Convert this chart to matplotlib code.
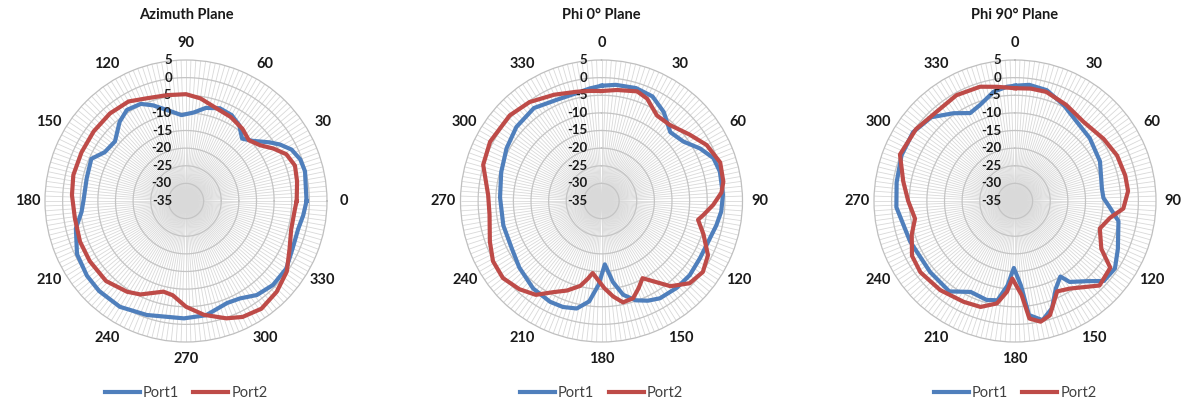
import numpy as np
import matplotlib
matplotlib.use("Agg")
import matplotlib.pyplot as plt

plt.rcParams['font.family'] = ['Lato', 'DejaVu Sans']

# Datos (angulo en grados, ganancia en dB)
azi_ang1 = [0, 10, 14, 20, 26, 31, 35, 42, 48, 55, 62, 70, 78, 85, 93, 100, 109, 115, 123, 130,
            140, 149, 156, 167, 180, 186, 194, 206, 217, 226, 238, 251, 269, 280, 292, 299, 307,
            316, 326, 336, 346, 353]
azi_p1 = [-0.8, -0.6, -0.2, -0.5, -1.7, -3.9, -6.0, -9.5, -11.2, -8.7, -7.4, -7.0, -8.0, -9.8,
          -10.6, -9.1, -6.3, -4.6, -4.2, -5.7, -8.7, -8.1, -5.6, -6.1, -5.9, -5.2, -2.8, -0.6,
          0.2, 0.5, 0.4, -0.8, -1.7, -2.1, -3.8, -3.4, -1.6, -0.7, -0.7, -1.9, -2.2, -1.5]

azi_ang2 = [0, 10, 18, 25, 31, 37, 44, 52, 62, 72, 82, 90, 100, 111, 120, 131, 143, 155, 167, 177,
            189, 201, 212, 225, 237, 244, 256, 262, 270, 279, 289, 296, 305, 315, 325, 335, 345, 356]
azi_p2 = [-3.6, -3.0, -2.5, -3.6, -6.1, -8.7, -10.2, -9.0, -8.0, -7.3, -5.6, -4.7, -4.5, -3.8,
          -2.4, -2.1, -2.2, -2.3, -2.2, -2.6, -3.1, -2.8, -2.8, -2.9, -4.3, -5.5, -8.5, -8.0,
          -5.0, -2.3, 0.2, 1.6, 2.3, 1.4, -0.1, -2.6, -4.1, -4.0]

phi0_ang1 = [0, 7, 17, 26, 35, 45, 54, 62, 69, 76, 87, 95, 102, 111, 120, 130, 139, 149, 155, 161,
             167, 172, 177, 182, 187, 193, 200, 207, 218, 231, 242, 256, 272, 286, 299, 311, 324,
             336, 347, 354]
phi0_p1 = [-2.3, -1.8, -1.5, -2.0, -4.2, -7.4, -6.3, -3.3, -1.0, -0.4, -0.5, -0.9, -1.7, -2.6,
           -2.7, -2.3, -2.4, -2.8, -3.8, -5.2, -7.7, -11.8, -17.0, -11.2, -6.3, -3.7, -3.0, -2.9,
           -3.5, -5.0, -6.2, -6.3, -6.2, -5.4, -4.2, -3.0, -2.4, -3.6, -3.6, -2.9]

phi0_ang2 = [0, 8, 18, 24, 33, 42, 53, 62, 72, 81, 86, 92, 98, 101, 108, 117, 125, 133, 141, 147,
             152, 157, 162, 168, 173, 178, 187, 190, 194, 201, 208, 215, 223, 232, 241, 250, 263,
             273, 287, 298, 313, 324, 336, 347, 354]
phi0_p2 = [-3.8, -3.2, -2.3, -3.2, -6.1, -6.0, -3.7, -1.2, 0.4, 0.0, -0.9, -3.3, -5.9, -7.1,
           -4.6, -1.1, 0.1, -0.8, -3.9, -7.8, -10.2, -8.1, -6.0, -5.6, -7.7, -10.2, -14.4, -12.6,
           -10.2, -7.8, -5.7, -2.5, -0.8, 0.5, 0.2, -1.3, -3.0, -2.8, 0.1, 0.8, 0.6, -0.3, -2.0,
           -3.2, -3.6]

phi90_ang1 = [0, 7, 16, 27, 38, 50, 65, 82, 88, 94, 101, 115, 124, 132, 138, 146, 149, 155, 161,
              167, 173, 176, 181, 185, 190, 196, 206, 216, 230, 249, 267, 279, 292, 304, 315, 325,
              333, 340, 349, 356]
phi90_p1 = [-2.3, -1.8, -2.3, -4.5, -6.5, -7.3, -8.4, -10.1, -9.9, -8.0, -5.1, -2.8, -0.8, -1.1,
            -4.4, -7.3, -10.0, -7.6, -2.8, -0.3, -2.4, -11.0, -16.0, -11.0, -6.4, -5.8, -6.3,
            -3.3, -3.6, -3.1, -1.3, -1.0, -0.3, -0.1, -1.4, -4.6, -7.0, -6.0, -3.4, -2.5]

phi90_ang2 = [0, 8, 16, 28, 41, 55, 66, 77, 85, 94, 100, 108, 119, 125, 135, 148, 155, 163, 168,
              173, 176, 182, 185, 190, 198, 207, 220, 233, 242, 252, 260, 270, 280, 292, 306, 319,
              331, 343, 351]
phi90_p2 = [-3.0, -2.8, -2.8, -4.1, -5.3, -4.3, -3.3, -2.9, -2.8, -4.2, -7.6, -9.7, -7.0, -2.0,
            -1.1, -5.7, -6.7, -1.1, 0.0, -1.4, -8.3, -13.0, -9.2, -5.5, -3.4, -2.9, -2.0, -1.4,
            -1.9, -4.2, -6.2, -4.7, -2.8, 0.2, -0.3, -1.3, -0.7, -1.1, -2.2]

titulos = ["Azimuth Plane", "Phi 0\u00b0 Plane", "Phi 90\u00b0 Plane"]
centros_x = [186, 601.5, 1015]   # centro de cada grafico en pixeles
anillos = [5, 0, -5, -10, -15, -20, -25, -30, -35]
angulos_etiqueta = list(range(0, 360, 30))

azul = "#4F7FBC"
rojo = "#BE4B48"

W, H = 1187, 408
R = 141  # radio en pixeles
cy = 201

fig = plt.figure(figsize=(W / 100, H / 100), dpi=100)


def dibujar(cx, titulo, ang1, val1, ang2, val2, acimut):
    ax = fig.add_axes([(cx - R) / W, 1 - (cy + R) / H, 2 * R / W, 2 * R / H], projection='polar')
    if acimut:
        ax.set_theta_zero_location('E')
        ax.set_theta_direction(1)
    else:
        ax.set_theta_zero_location('N')
        ax.set_theta_direction(-1)
    ax.set_ylim(-35, 5)
    ax.set_xticks([])
    ax.set_yticks([])
    ax.grid(False)
    ax.spines['polar'].set_color('#BFBFBF')
    ax.spines['polar'].set_linewidth(0.9)

    # radios y anillos de la rejilla
    rayos = np.radians(np.arange(0, 360, 2))
    ax.vlines(rayos, -35, 5, color='#D9D9D9', lw=0.6, zorder=1)
    t = np.linspace(0, 2 * np.pi, 361)
    for r in anillos[1:-1]:
        ax.plot(t, np.full_like(t, r), color='#C4C4C4', lw=0.9, zorder=1)

    # curvas (cerradas)
    a1 = np.radians(ang1 + [ang1[0] + 360])
    a2 = np.radians(ang2 + [ang2[0] + 360])
    ax.plot(a1, val1 + [val1[0]], color=azul, lw=3.0, label="Port1", zorder=3,
            solid_joinstyle='round')
    ax.plot(a2, val2 + [val2[0]], color=rojo, lw=3.0, label="Port2", zorder=4,
            solid_joinstyle='round')

    # etiquetas de angulo
    for a in angulos_etiqueta:
        ax.text(np.radians(a), 9.8, str(a), ha='center', va='center', fontsize=10.5,
                fontweight='bold', color='#1a1a1a')

    # etiquetas radiales
    for v in anillos:
        ax.text(0.5 - 14 / (2 * R), 0.5 + 0.5 * (v + 35) / 40, str(v), transform=ax.transAxes,
                ha='right', va='center', fontsize=9.5, fontweight='bold', color='#1a1a1a')

    fig.text(cx / W, 1 - 15 / H, titulo, ha='center', va='center', fontsize=10.5,
             fontweight='bold', color='#1a1a1a')
    ax.legend(loc='center', bbox_to_anchor=(0.5, -0.18), ncol=2, frameon=False, fontsize=10.5,
              handlelength=2.4, columnspacing=1.0, handletextpad=0.2, labelcolor='#404040')


dibujar(centros_x[0], titulos[0], azi_ang1, azi_p1, azi_ang2, azi_p2, True)
dibujar(centros_x[1], titulos[1], phi0_ang1, phi0_p1, phi0_ang2, phi0_p2, False)
dibujar(centros_x[2], titulos[2], phi90_ang1, phi90_p1, phi90_ang2, phi90_p2, False)

fig.savefig("out.png", dpi=100)
